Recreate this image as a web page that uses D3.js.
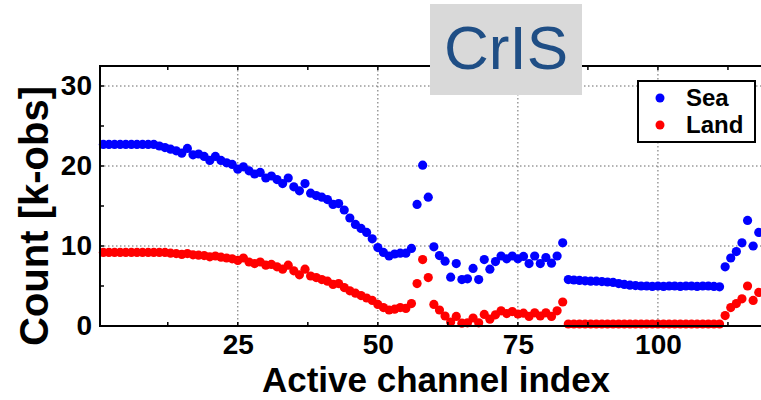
<!DOCTYPE html>
<html>
<head>
<meta charset="utf-8">
<script src="https://cdn.jsdelivr.net/npm/d3@7"></script>
<style>
  body { margin: 0; background: #fff; }
  text { font-family: "Liberation Sans", Arial, sans-serif; }
</style>
</head>
<body>
<div id="chart"></div>
<script>
const channels = d3.range(1, 119);

const seaCounts = [
  22.7, 22.7, 22.7, 22.7, 22.7, 22.7, 22.7, 22.7, 22.7, 22.7,
  22.5, 22.3, 22.1, 21.9, 21.6, 22.2, 21.4, 21.5, 21.2, 20.7,
  21.2, 20.7, 20.4, 20.2, 19.6, 19.9, 19.4, 19.0, 19.2, 18.5,
  18.75, 18.3, 17.8, 18.5, 17.4, 16.9, 17.8, 16.6, 16.3, 16.1,
  15.8, 15.2, 15.3, 14.5, 13.5, 12.7, 12.2, 11.7, 10.9, 9.8,
  9.2, 8.75, 9.0, 9.1, 9.1, 9.7, 15.2, 20.1, 16.1, 9.9,
  8.8, 8.1, 6.1, 7.8, 5.8, 5.9, 7.2, 5.8, 8.3, 7.1,
  8.05, 8.75, 8.4, 8.75, 8.4, 8.7, 7.8, 8.75, 7.8, 8.55,
  7.85, 8.75, 10.4, 5.8, 5.75, 5.7, 5.65, 5.6, 5.6, 5.55,
  5.5, 5.45, 5.3, 5.2, 5.1, 5.05, 5.0, 5.0, 4.95, 5.0,
  4.95, 5.0, 5.0, 4.95, 5.0, 5.0, 4.95, 5.0, 5.0, 4.95,
  4.9, 7.4, 8.5, 9.3, 10.4, 13.2, 10.0, 11.7
];

const landCounts = [
  9.2, 9.2, 9.2, 9.2, 9.2, 9.2, 9.2, 9.2, 9.2, 9.2,
  9.2, 9.2, 9.1, 9.05, 8.95, 9.05, 8.9, 8.85, 8.8, 8.65,
  8.75, 8.6, 8.5, 8.4, 8.2, 8.5, 8.0, 7.8, 8.0, 7.6,
  7.7, 7.4, 7.1, 7.6, 6.9, 6.4, 7.1, 6.25, 6.05, 5.8,
  5.6, 5.2, 5.3, 4.8, 4.4, 4.1, 3.8, 3.5, 3.2, 2.7,
  2.3, 2.0, 2.1, 2.3, 2.2, 2.8, 5.3, 8.3, 6.05, 2.7,
  2.0, 1.25, 0.5, 1.2, 0.35, 0.4, 1.0, 0.4, 1.45, 0.85,
  1.4, 1.9, 1.55, 1.8, 1.5, 1.6, 1.2, 1.65, 1.25, 1.65,
  1.2, 1.9, 3.0, 0.25, 0.25, 0.25, 0.25, 0.25, 0.25, 0.25,
  0.25, 0.25, 0.25, 0.25, 0.25, 0.25, 0.25, 0.25, 0.25, 0.25,
  0.25, 0.25, 0.25, 0.25, 0.25, 0.25, 0.25, 0.25, 0.25, 0.25,
  0.25, 1.3, 2.3, 2.8, 3.4, 5.0, 3.2, 4.2
];

const xTicks = [25, 50, 75, 100];
const xMinorTicks = [12.5, 37.5, 62.5, 87.5, 112.5];
const yTicks = [0, 10, 20, 30];
const yMinorTicks = [5, 15, 25];

const seriesNames = ["Sea", "Land"];
const seriesColors = ["#0000ff", "#ff0000"];

const width = 761;
const height = 400;
const plotLeft = 100, plotTop = 66, plotBottom = 326, plotRight = 761;

const x = d3.scaleLinear().domain([0.4, 118.4]).range([plotLeft, plotRight]);
const y = d3.scaleLinear().domain([0, 32.5]).range([plotBottom, plotTop]);

const svg = d3.select("#chart")
  .append("svg")
    .attr("width", width)
    .attr("height", height);

// dotted grid
svg.append("g")
  .selectAll("line")
  .data(xTicks)
  .join("line")
    .attr("x1", d => x(d))
    .attr("x2", d => x(d))
    .attr("y1", plotTop)
    .attr("y2", plotBottom)
    .attr("stroke", "#666")
    .attr("stroke-dasharray", "1.5,2.5");

svg.append("g")
  .selectAll("line")
  .data(yTicks.filter(d => d > 0))
  .join("line")
    .attr("x1", plotLeft)
    .attr("x2", plotRight)
    .attr("y1", d => y(d))
    .attr("y2", d => y(d))
    .attr("stroke", "#666")
    .attr("stroke-dasharray", "1.5,2.5");

// points
const series = [seaCounts, landCounts];
series.forEach((values, i) => {
  svg.append("g")
    .selectAll("circle")
    .data(values)
    .join("circle")
      .attr("cx", (d, j) => x(channels[j]))
      .attr("cy", d => y(d))
      .attr("r", 4.6)
      .attr("fill", seriesColors[i]);
});

// frame
svg.append("path")
  .attr("d", `M${plotRight},${plotTop}H${plotLeft}V${plotBottom}H${plotRight}`)
  .attr("fill", "none")
  .attr("stroke", "#000")
  .attr("stroke-width", 2);

// tick marks, pointing inward
const allX = xTicks.concat(xMinorTicks);
svg.append("g")
  .selectAll("line")
  .data(allX)
  .join("line")
    .attr("x1", d => x(d))
    .attr("x2", d => x(d))
    .attr("y1", plotTop)
    .attr("y2", plotTop + 4)
    .attr("stroke", "#000")
    .attr("stroke-width", 1.5);
svg.append("g")
  .selectAll("line")
  .data(allX)
  .join("line")
    .attr("x1", d => x(d))
    .attr("x2", d => x(d))
    .attr("y1", plotBottom)
    .attr("y2", plotBottom - 4)
    .attr("stroke", "#000")
    .attr("stroke-width", 1.5);
svg.append("g")
  .selectAll("line")
  .data(yTicks.concat(yMinorTicks))
  .join("line")
    .attr("x1", plotLeft)
    .attr("x2", plotLeft + 4)
    .attr("y1", d => y(d))
    .attr("y2", d => y(d))
    .attr("stroke", "#000")
    .attr("stroke-width", 1.5);

// axis labels via d3 axes
const xAxis = svg.append("g")
  .attr("transform", `translate(0,${plotBottom})`)
  .call(d3.axisBottom(x).tickValues(xTicks).tickSize(0).tickPadding(8));
const yAxis = svg.append("g")
  .attr("transform", `translate(${plotLeft},0)`)
  .call(d3.axisLeft(y).tickValues(yTicks).tickSize(0).tickPadding(8));
[xAxis, yAxis].forEach(a => {
  a.select(".domain").remove();
  a.selectAll("text")
    .attr("font-family", "Liberation Sans, Arial, sans-serif")
    .attr("font-size", 28)
    .attr("font-weight", "bold")
    .attr("fill", "#000");
});

svg.append("text")
  .attr("x", 436)
  .attr("y", 392)
  .attr("text-anchor", "middle")
  .attr("font-size", 35)
  .attr("font-weight", "bold")
  .text("Active channel index");

svg.append("text")
  .attr("transform", "translate(48,216) rotate(-90)")
  .attr("text-anchor", "middle")
  .attr("font-size", 40)
  .attr("font-weight", "bold")
  .text("Count [k-obs]");

// legend
const legend = svg.append("g");
legend.append("rect")
  .attr("x", 638)
  .attr("y", 81)
  .attr("width", 117)
  .attr("height", 61)
  .attr("fill", "#fff")
  .attr("stroke", "#000")
  .attr("stroke-width", 2);
seriesNames.forEach((name, i) => {
  legend.append("circle")
    .attr("cx", 660)
    .attr("cy", 98 + i * 27)
    .attr("r", 4.5)
    .attr("fill", seriesColors[i]);
  legend.append("text")
    .attr("x", 686)
    .attr("y", 106 + i * 27)
    .attr("font-size", 24)
    .attr("font-weight", "bold")
    .text(name);
});

// title box
svg.append("rect")
  .attr("x", 430)
  .attr("y", 4)
  .attr("width", 152)
  .attr("height", 91)
  .attr("fill", "#d9d9d9");
svg.append("text")
  .attr("x", 506)
  .attr("y", 69)
  .attr("text-anchor", "middle")
  .attr("font-size", 62)
  .attr("fill", "#1f4e85")
  .text("CrIS");
</script>
</body>
</html>
